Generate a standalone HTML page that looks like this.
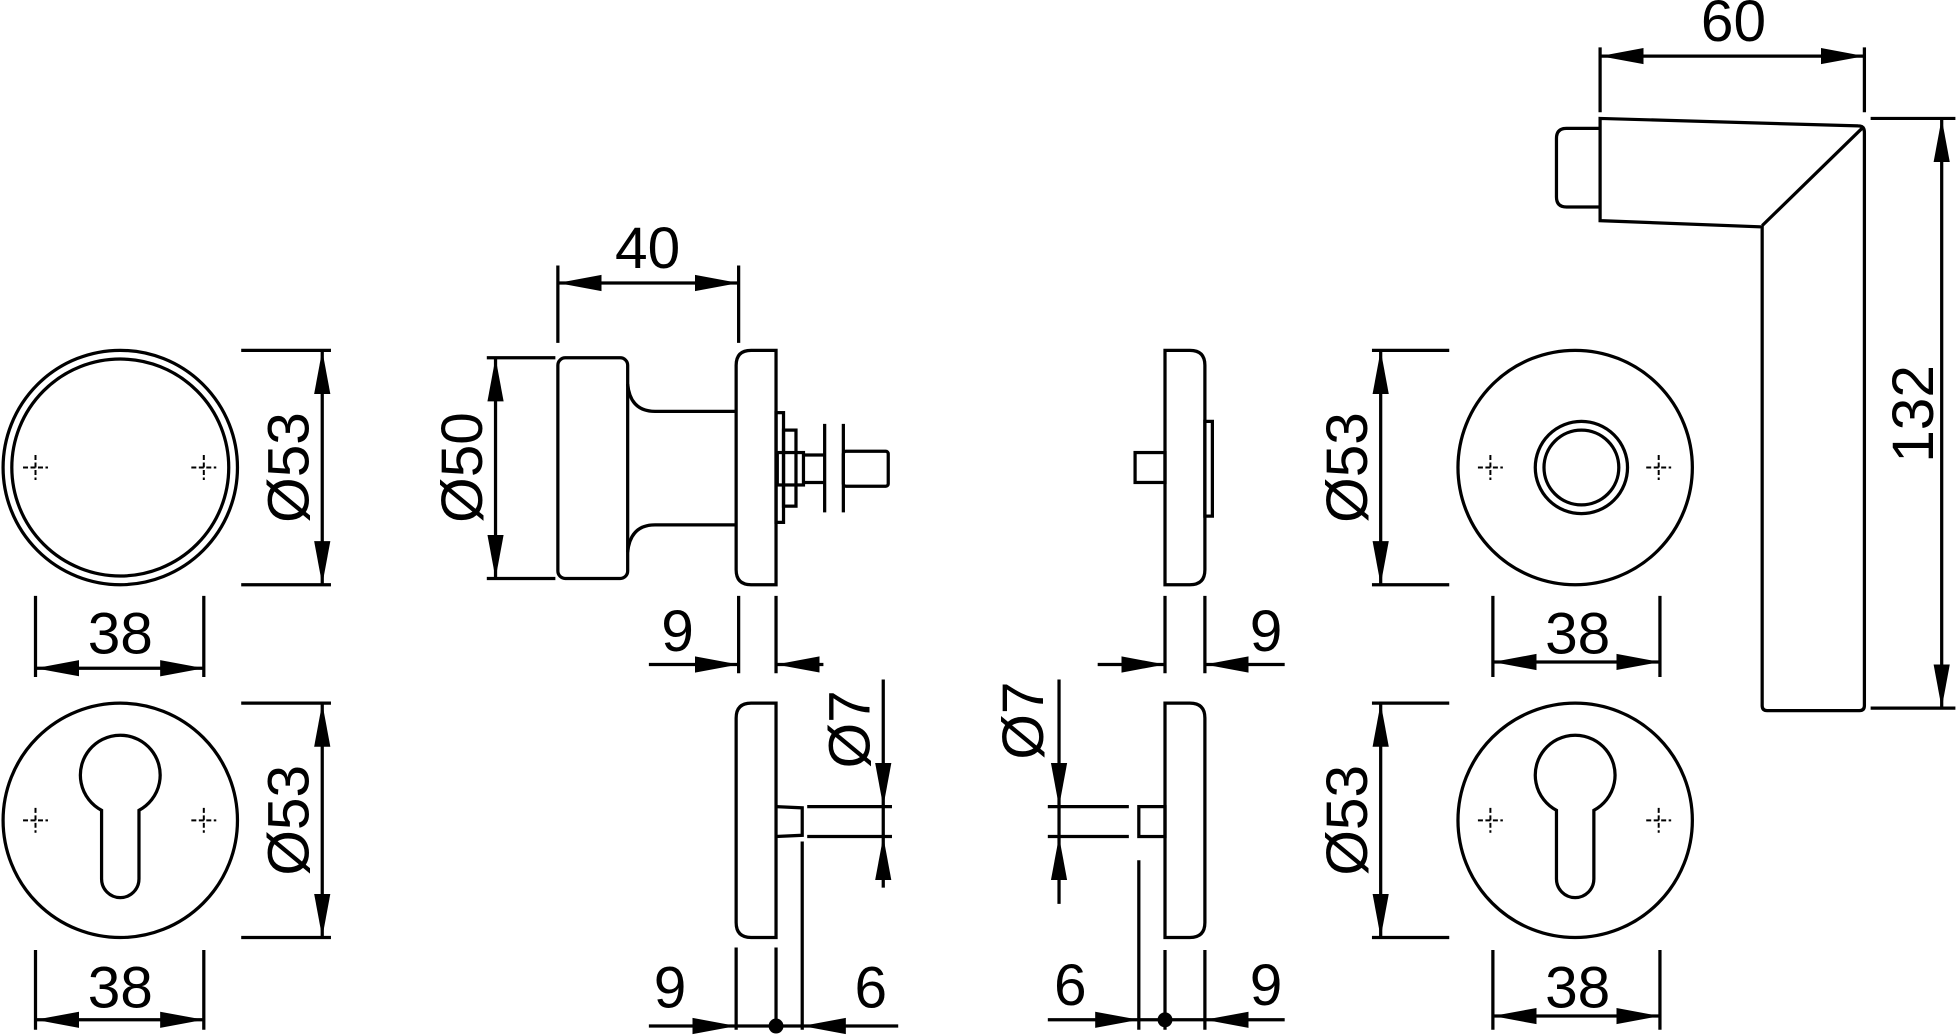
<!DOCTYPE html>
<html><head><meta charset="utf-8"><style>
html,body{margin:0;padding:0;background:#fff;}
svg{display:block;}
text{font-family:"Liberation Sans",Arial,sans-serif;font-size:47px;fill:#000;}
</style></head><body>
<svg width="1956" height="1036" viewBox="0 0 1568 831" xmlns="http://www.w3.org/2000/svg">
<defs>
<marker id="a" markerUnits="userSpaceOnUse" markerWidth="36" markerHeight="14" refX="35" refY="7" orient="auto-start-reverse"><path d="M0,0.5 L35,7 L0,13.5 z" fill="#000"/></marker>
</defs>
<g fill="none" stroke="#000" stroke-width="2.6">
<circle cx="96" cy="375" r="94"/><circle cx="96" cy="375" r="87"/>
<circle cx="96" cy="658" r="94"/>
<path d="M81,650 A32,32 0 1 1 111,650 L111,705 A15,15 0 0 1 81,705 Z"/>
<circle cx="1263" cy="375" r="94"/><circle cx="1268" cy="375" r="37"/><circle cx="1268" cy="375" r="30"/>
<circle cx="1263" cy="658" r="94"/>
<path d="M1248,650 A32,32 0 1 1 1278,650 L1278,705 A15,15 0 0 1 1248,705 Z"/>

<path d="M193,281H265M193,469H265M28,478V543M163,478V543M193,564H265M193,752H265M28,762V826M163,762V826"/>
<line x1="258" y1="281" x2="258" y2="469" marker-start="url(#a)" marker-end="url(#a)"/>
<line x1="28" y1="536" x2="163" y2="536" marker-start="url(#a)" marker-end="url(#a)"/>
<line x1="258" y1="564" x2="258" y2="752" marker-start="url(#a)" marker-end="url(#a)"/>
<line x1="28" y1="818" x2="163" y2="818" marker-start="url(#a)" marker-end="url(#a)"/>

<path d="M1100,281H1162M1100,469H1162M1197,478V543M1331,478V543M1100,564H1162M1100,752H1162M1197,762V826M1331,762V826"/>
<line x1="1107" y1="281" x2="1107" y2="469" marker-start="url(#a)" marker-end="url(#a)"/>
<line x1="1197" y1="531" x2="1331" y2="531" marker-start="url(#a)" marker-end="url(#a)"/>
<line x1="1107" y1="564" x2="1107" y2="752" marker-start="url(#a)" marker-end="url(#a)"/>
<line x1="1197" y1="815" x2="1331" y2="815" marker-start="url(#a)" marker-end="url(#a)"/>

<path d="M447,213V275M592,213V275M390,287H445M390,464H445"/>
<line x1="447" y1="227" x2="592" y2="227" marker-start="url(#a)" marker-end="url(#a)"/>
<line x1="397" y1="287" x2="397" y2="464" marker-start="url(#a)" marker-end="url(#a)"/>
<rect x="447" y="287" width="56" height="177" rx="6"/>
<path d="M503,308 Q505,330 525,330 H590 M503,443 Q505,421 525,421 H590"/>
<path d="M622,281 H602 Q590,281 590,293 V457 Q590,469 602,469 H622 Z"/>
<rect x="622" y="331" width="6" height="88"/>
<rect x="628" y="345" width="10" height="61"/>
<rect x="623" y="363" width="21" height="26"/>
<path d="M644,365H661M644,387H661M661,340V411M676,340V411"/>
<rect x="676" y="362" width="36" height="28" rx="2"/>
<path d="M592,478V540M622,478V540"/>
<line x1="520" y1="533" x2="592" y2="533" marker-end="url(#a)"/>
<line x1="660" y1="533" x2="622" y2="533" marker-end="url(#a)"/>

<path d="M934,281 H954 Q966,281 966,293 V457 Q966,469 954,469 H934 Z"/>
<rect x="966" y="338" width="6" height="76"/>
<rect x="910" y="363" width="24" height="24"/>
<path d="M934,478V540M966,478V540"/>
<line x1="880" y1="533" x2="934" y2="533" marker-end="url(#a)"/>
<line x1="1030" y1="533" x2="966" y2="533" marker-end="url(#a)"/>

<path d="M622,564 H602 Q590,564 590,576 V740 Q590,752 602,752 H622 Z"/>
<path d="M622,647 L643,648 V670 L622,671"/>
<path d="M647,647H715M647,671H715M643,675V826M590,760V826M622,760V826"/>
<line x1="708" y1="545" x2="708" y2="647" marker-end="url(#a)"/>
<line x1="708" y1="712" x2="708" y2="671" marker-end="url(#a)"/>
<line x1="708" y1="647" x2="708" y2="671"/>
<line x1="520" y1="823" x2="590" y2="823" marker-end="url(#a)"/>
<line x1="720" y1="823" x2="643" y2="823" marker-end="url(#a)"/>
<line x1="590" y1="823" x2="643" y2="823"/>

<path d="M934,564 H954 Q966,564 966,576 V740 Q966,752 954,752 H934 Z"/>
<rect x="913" y="647" width="21" height="24"/>
<path d="M840,647H905M840,671H905M913,690V826M934,762V826M966,762V826"/>
<line x1="849" y1="545" x2="849" y2="647" marker-end="url(#a)"/>
<line x1="849" y1="725" x2="849" y2="671" marker-end="url(#a)"/>
<line x1="849" y1="647" x2="849" y2="671"/>
<line x1="840" y1="818" x2="913" y2="818" marker-end="url(#a)"/>
<line x1="1030" y1="818" x2="966" y2="818" marker-end="url(#a)"/>
<line x1="913" y1="818" x2="966" y2="818"/>

<path d="M1283,103 H1256 Q1248,103 1248,111 V158 Q1248,166 1256,166 H1283"/>
<path d="M1283,95 L1490,101 Q1495,101 1495,106 V566 Q1495,570 1491,570 H1417 Q1413,570 1413,566 V182 L1283,177 Z"/>
<path d="M1493,103 L1413,181"/>
<path d="M1283,38V90M1495,38V90M1500,95H1568M1500,568H1568"/>
<line x1="1283" y1="45" x2="1495" y2="45" marker-start="url(#a)" marker-end="url(#a)"/>
<line x1="1557" y1="95" x2="1557" y2="568" marker-start="url(#a)" marker-end="url(#a)"/>
</g>
<g fill="#000">
<circle cx="622" cy="823" r="6"/><circle cx="934" cy="818" r="6"/>
</g>
<g stroke="#000" stroke-width="1.6" stroke-dasharray="4,2">
<path d="M18,375H38M28,365V385M153,375H173M163,365V385"/>
<path d="M18,658H38M28,648V668M153,658H173M163,648V668"/>
<path d="M1185,375H1205M1195,365V385M1320,375H1340M1330,365V385"/>
<path d="M1185,658H1205M1195,648V668M1320,658H1340M1330,648V668"/>
</g>
<text x="96" y="524" text-anchor="middle">38</text>
<text x="96" y="808" text-anchor="middle">38</text>
<text x="1265" y="524" text-anchor="middle">38</text>
<text x="1265" y="808" text-anchor="middle">38</text>
<text transform="translate(247,375) rotate(-90)" text-anchor="middle">Ø53</text>
<text transform="translate(247,658) rotate(-90)" text-anchor="middle">Ø53</text>
<text transform="translate(1096,375) rotate(-90)" text-anchor="middle">Ø53</text>
<text transform="translate(1096,658) rotate(-90)" text-anchor="middle">Ø53</text>
<text transform="translate(386,375) rotate(-90)" text-anchor="middle">Ø50</text>
<text transform="translate(1550,332) rotate(-90)" text-anchor="middle">132</text>
<text transform="translate(697,585) rotate(-90)" text-anchor="middle">Ø7</text>
<text transform="translate(836,578) rotate(-90)" text-anchor="middle">Ø7</text>
<text x="519" y="215" text-anchor="middle">40</text>
<text x="1390" y="33" text-anchor="middle">60</text>
<text x="543" y="522" text-anchor="middle">9</text>
<text x="1015" y="522" text-anchor="middle">9</text>
<text x="537" y="808" text-anchor="middle">9</text>
<text x="698" y="808" text-anchor="middle">6</text>
<text x="858" y="806" text-anchor="middle">6</text>
<text x="1015" y="806" text-anchor="middle">9</text>
</svg>
</body></html>
